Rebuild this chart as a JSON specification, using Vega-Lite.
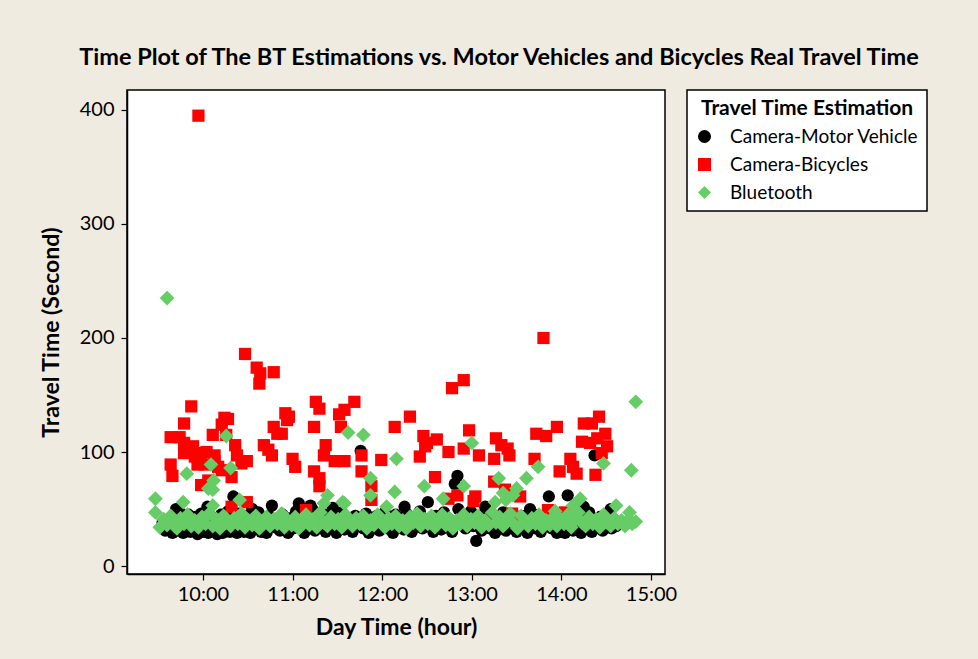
{
  "$schema": "https://vega.github.io/schema/vega-lite/v6.json",
  "width": 538,
  "height": 484,
  "autosize": {"type": "none"},
  "padding": {"left": 127, "top": 90, "right": 313, "bottom": 85},
  "background": "#EFEBE1",
  "title": {"text": "Time Plot of The BT Estimations vs. Motor Vehicles and Bicycles Real Travel Time", "font": "Lato", "fontSize": 23.5, "fontWeight": "bold", "color": "#000000", "anchor": "middle", "frame": "group", "dx": 103, "offset": 20},
  "config": {
    "view": {"stroke": "#000000", "strokeWidth": 1.5, "fill": "#FFFFFF"},
    "axis": {"grid": false, "domainColor": "#000000", "domainWidth": 1.5, "tickColor": "#000000", "tickWidth": 1.2, "tickSize": 6, "labelFont": "Lato", "labelFontSize": 20, "labelColor": "#000000", "titleFont": "Lato", "titleFontSize": 23, "titleFontWeight": "bold", "titleColor": "#000000"},
    "legend": {"orient": "right", "offset": 22, "strokeColor": "#000000", "strokeWidth": 1.5, "fillColor": "#FFFFFF", "padding": 8, "titleFont": "Lato", "titleFontSize": 21, "titleFontWeight": "bold", "titleColor": "#000000", "titleAnchor": "middle", "titlePadding": 8, "labelFont": "Lato", "labelFontSize": 19, "labelColor": "#000000", "labelOffset": 16, "rowPadding": 8, "symbolSize": 170, "symbolStrokeWidth": 0, "labelLimit": 400, "titleLimit": 400}
  },
  "data": {"values": [
    {"h":9.55,"v":38,"s":"Camera-Motor Vehicle"},{"h":9.58,"v":31,"s":"Camera-Motor Vehicle"},{"h":9.62,"v":33,"s":"Camera-Motor Vehicle"},{"h":9.64,"v":40,"s":"Camera-Motor Vehicle"},{"h":9.66,"v":29,"s":"Camera-Motor Vehicle"},{"h":9.68,"v":44,"s":"Camera-Motor Vehicle"},{"h":9.70,"v":50,"s":"Camera-Motor Vehicle"},{"h":9.72,"v":31,"s":"Camera-Motor Vehicle"},{"h":9.74,"v":47,"s":"Camera-Motor Vehicle"},{"h":9.76,"v":38,"s":"Camera-Motor Vehicle"},{"h":9.78,"v":29,"s":"Camera-Motor Vehicle"},{"h":9.80,"v":42,"s":"Camera-Motor Vehicle"},{"h":9.82,"v":35,"s":"Camera-Motor Vehicle"},{"h":9.84,"v":45,"s":"Camera-Motor Vehicle"},{"h":9.86,"v":30,"s":"Camera-Motor Vehicle"},{"h":9.88,"v":39,"s":"Camera-Motor Vehicle"},{"h":9.90,"v":33,"s":"Camera-Motor Vehicle"},{"h":9.92,"v":43,"s":"Camera-Motor Vehicle"},{"h":9.94,"v":28,"s":"Camera-Motor Vehicle"},{"h":9.96,"v":36,"s":"Camera-Motor Vehicle"},{"h":9.98,"v":46,"s":"Camera-Motor Vehicle"},{"h":10.00,"v":30,"s":"Camera-Motor Vehicle"},{"h":10.02,"v":40,"s":"Camera-Motor Vehicle"},{"h":10.04,"v":34,"s":"Camera-Motor Vehicle"},{"h":10.05,"v":52,"s":"Camera-Motor Vehicle"},{"h":10.06,"v":29,"s":"Camera-Motor Vehicle"},{"h":10.08,"v":44,"s":"Camera-Motor Vehicle"},{"h":10.10,"v":37,"s":"Camera-Motor Vehicle"},{"h":10.12,"v":31,"s":"Camera-Motor Vehicle"},{"h":10.14,"v":41,"s":"Camera-Motor Vehicle"},{"h":10.16,"v":28,"s":"Camera-Motor Vehicle"},{"h":10.18,"v":35,"s":"Camera-Motor Vehicle"},{"h":10.20,"v":45,"s":"Camera-Motor Vehicle"},{"h":10.22,"v":29,"s":"Camera-Motor Vehicle"},{"h":10.24,"v":38,"s":"Camera-Motor Vehicle"},{"h":10.26,"v":33,"s":"Camera-Motor Vehicle"},{"h":10.28,"v":48,"s":"Camera-Motor Vehicle"},{"h":10.30,"v":30,"s":"Camera-Motor Vehicle"},{"h":10.32,"v":42,"s":"Camera-Motor Vehicle"},{"h":10.34,"v":61,"s":"Camera-Motor Vehicle"},{"h":10.36,"v":36,"s":"Camera-Motor Vehicle"},{"h":10.38,"v":29,"s":"Camera-Motor Vehicle"},{"h":10.40,"v":46,"s":"Camera-Motor Vehicle"},{"h":10.42,"v":33,"s":"Camera-Motor Vehicle"},{"h":10.44,"v":39,"s":"Camera-Motor Vehicle"},{"h":10.46,"v":30,"s":"Camera-Motor Vehicle"},{"h":10.48,"v":44,"s":"Camera-Motor Vehicle"},{"h":10.50,"v":35,"s":"Camera-Motor Vehicle"},{"h":10.53,"v":29,"s":"Camera-Motor Vehicle"},{"h":10.55,"v":50,"s":"Camera-Motor Vehicle"},{"h":10.56,"v":41,"s":"Camera-Motor Vehicle"},{"h":10.59,"v":33,"s":"Camera-Motor Vehicle"},{"h":10.62,"v":47,"s":"Camera-Motor Vehicle"},{"h":10.65,"v":30,"s":"Camera-Motor Vehicle"},{"h":10.68,"v":38,"s":"Camera-Motor Vehicle"},{"h":10.71,"v":29,"s":"Camera-Motor Vehicle"},{"h":10.74,"v":44,"s":"Camera-Motor Vehicle"},{"h":10.77,"v":53,"s":"Camera-Motor Vehicle"},{"h":10.80,"v":34,"s":"Camera-Motor Vehicle"},{"h":10.83,"v":40,"s":"Camera-Motor Vehicle"},{"h":10.86,"v":31,"s":"Camera-Motor Vehicle"},{"h":10.89,"v":45,"s":"Camera-Motor Vehicle"},{"h":10.92,"v":36,"s":"Camera-Motor Vehicle"},{"h":10.95,"v":29,"s":"Camera-Motor Vehicle"},{"h":10.98,"v":42,"s":"Camera-Motor Vehicle"},{"h":11.01,"v":33,"s":"Camera-Motor Vehicle"},{"h":11.04,"v":48,"s":"Camera-Motor Vehicle"},{"h":11.07,"v":55,"s":"Camera-Motor Vehicle"},{"h":11.10,"v":37,"s":"Camera-Motor Vehicle"},{"h":11.13,"v":29,"s":"Camera-Motor Vehicle"},{"h":11.16,"v":43,"s":"Camera-Motor Vehicle"},{"h":11.19,"v":35,"s":"Camera-Motor Vehicle"},{"h":11.20,"v":53,"s":"Camera-Motor Vehicle"},{"h":11.22,"v":50,"s":"Camera-Motor Vehicle"},{"h":11.25,"v":31,"s":"Camera-Motor Vehicle"},{"h":11.28,"v":41,"s":"Camera-Motor Vehicle"},{"h":11.31,"v":36,"s":"Camera-Motor Vehicle"},{"h":11.34,"v":46,"s":"Camera-Motor Vehicle"},{"h":11.37,"v":30,"s":"Camera-Motor Vehicle"},{"h":11.40,"v":39,"s":"Camera-Motor Vehicle"},{"h":11.43,"v":34,"s":"Camera-Motor Vehicle"},{"h":11.45,"v":51,"s":"Camera-Motor Vehicle"},{"h":11.46,"v":44,"s":"Camera-Motor Vehicle"},{"h":11.49,"v":29,"s":"Camera-Motor Vehicle"},{"h":11.52,"v":38,"s":"Camera-Motor Vehicle"},{"h":11.55,"v":47,"s":"Camera-Motor Vehicle"},{"h":11.58,"v":32,"s":"Camera-Motor Vehicle"},{"h":11.61,"v":41,"s":"Camera-Motor Vehicle"},{"h":11.64,"v":35,"s":"Camera-Motor Vehicle"},{"h":11.67,"v":30,"s":"Camera-Motor Vehicle"},{"h":11.70,"v":44,"s":"Camera-Motor Vehicle"},{"h":11.73,"v":38,"s":"Camera-Motor Vehicle"},{"h":11.76,"v":101,"s":"Camera-Motor Vehicle"},{"h":11.79,"v":33,"s":"Camera-Motor Vehicle"},{"h":11.82,"v":46,"s":"Camera-Motor Vehicle"},{"h":11.85,"v":29,"s":"Camera-Motor Vehicle"},{"h":11.88,"v":40,"s":"Camera-Motor Vehicle"},{"h":11.91,"v":35,"s":"Camera-Motor Vehicle"},{"h":11.94,"v":44,"s":"Camera-Motor Vehicle"},{"h":11.97,"v":31,"s":"Camera-Motor Vehicle"},{"h":12.00,"v":38,"s":"Camera-Motor Vehicle"},{"h":12.03,"v":47,"s":"Camera-Motor Vehicle"},{"h":12.06,"v":33,"s":"Camera-Motor Vehicle"},{"h":12.09,"v":41,"s":"Camera-Motor Vehicle"},{"h":12.12,"v":29,"s":"Camera-Motor Vehicle"},{"h":12.15,"v":45,"s":"Camera-Motor Vehicle"},{"h":12.18,"v":36,"s":"Camera-Motor Vehicle"},{"h":12.21,"v":40,"s":"Camera-Motor Vehicle"},{"h":12.24,"v":32,"s":"Camera-Motor Vehicle"},{"h":12.25,"v":52,"s":"Camera-Motor Vehicle"},{"h":12.27,"v":46,"s":"Camera-Motor Vehicle"},{"h":12.30,"v":38,"s":"Camera-Motor Vehicle"},{"h":12.33,"v":30,"s":"Camera-Motor Vehicle"},{"h":12.36,"v":43,"s":"Camera-Motor Vehicle"},{"h":12.39,"v":35,"s":"Camera-Motor Vehicle"},{"h":12.42,"v":48,"s":"Camera-Motor Vehicle"},{"h":12.45,"v":33,"s":"Camera-Motor Vehicle"},{"h":12.48,"v":41,"s":"Camera-Motor Vehicle"},{"h":12.51,"v":56,"s":"Camera-Motor Vehicle"},{"h":12.54,"v":36,"s":"Camera-Motor Vehicle"},{"h":12.57,"v":30,"s":"Camera-Motor Vehicle"},{"h":12.60,"v":44,"s":"Camera-Motor Vehicle"},{"h":12.63,"v":38,"s":"Camera-Motor Vehicle"},{"h":12.66,"v":32,"s":"Camera-Motor Vehicle"},{"h":12.69,"v":47,"s":"Camera-Motor Vehicle"},{"h":12.72,"v":35,"s":"Camera-Motor Vehicle"},{"h":12.75,"v":41,"s":"Camera-Motor Vehicle"},{"h":12.78,"v":30,"s":"Camera-Motor Vehicle"},{"h":12.81,"v":72,"s":"Camera-Motor Vehicle"},{"h":12.84,"v":79,"s":"Camera-Motor Vehicle"},{"h":12.85,"v":50,"s":"Camera-Motor Vehicle"},{"h":12.87,"v":37,"s":"Camera-Motor Vehicle"},{"h":12.90,"v":44,"s":"Camera-Motor Vehicle"},{"h":12.93,"v":33,"s":"Camera-Motor Vehicle"},{"h":12.96,"v":40,"s":"Camera-Motor Vehicle"},{"h":12.99,"v":48,"s":"Camera-Motor Vehicle"},{"h":13.02,"v":35,"s":"Camera-Motor Vehicle"},{"h":13.05,"v":22,"s":"Camera-Motor Vehicle"},{"h":13.08,"v":42,"s":"Camera-Motor Vehicle"},{"h":13.11,"v":31,"s":"Camera-Motor Vehicle"},{"h":13.14,"v":46,"s":"Camera-Motor Vehicle"},{"h":13.15,"v":52,"s":"Camera-Motor Vehicle"},{"h":13.17,"v":37,"s":"Camera-Motor Vehicle"},{"h":13.20,"v":33,"s":"Camera-Motor Vehicle"},{"h":13.23,"v":44,"s":"Camera-Motor Vehicle"},{"h":13.26,"v":29,"s":"Camera-Motor Vehicle"},{"h":13.29,"v":40,"s":"Camera-Motor Vehicle"},{"h":13.32,"v":35,"s":"Camera-Motor Vehicle"},{"h":13.35,"v":47,"s":"Camera-Motor Vehicle"},{"h":13.38,"v":31,"s":"Camera-Motor Vehicle"},{"h":13.41,"v":41,"s":"Camera-Motor Vehicle"},{"h":13.44,"v":36,"s":"Camera-Motor Vehicle"},{"h":13.47,"v":45,"s":"Camera-Motor Vehicle"},{"h":13.50,"v":30,"s":"Camera-Motor Vehicle"},{"h":13.53,"v":39,"s":"Camera-Motor Vehicle"},{"h":13.56,"v":34,"s":"Camera-Motor Vehicle"},{"h":13.59,"v":44,"s":"Camera-Motor Vehicle"},{"h":13.62,"v":29,"s":"Camera-Motor Vehicle"},{"h":13.65,"v":50,"s":"Camera-Motor Vehicle"},{"h":13.66,"v":38,"s":"Camera-Motor Vehicle"},{"h":13.68,"v":46,"s":"Camera-Motor Vehicle"},{"h":13.71,"v":33,"s":"Camera-Motor Vehicle"},{"h":13.74,"v":41,"s":"Camera-Motor Vehicle"},{"h":13.77,"v":30,"s":"Camera-Motor Vehicle"},{"h":13.80,"v":36,"s":"Camera-Motor Vehicle"},{"h":13.83,"v":44,"s":"Camera-Motor Vehicle"},{"h":13.86,"v":61,"s":"Camera-Motor Vehicle"},{"h":13.89,"v":33,"s":"Camera-Motor Vehicle"},{"h":13.92,"v":40,"s":"Camera-Motor Vehicle"},{"h":13.95,"v":29,"s":"Camera-Motor Vehicle"},{"h":13.98,"v":46,"s":"Camera-Motor Vehicle"},{"h":14.01,"v":35,"s":"Camera-Motor Vehicle"},{"h":14.04,"v":29,"s":"Camera-Motor Vehicle"},{"h":14.07,"v":62,"s":"Camera-Motor Vehicle"},{"h":14.10,"v":42,"s":"Camera-Motor Vehicle"},{"h":14.13,"v":31,"s":"Camera-Motor Vehicle"},{"h":14.16,"v":38,"s":"Camera-Motor Vehicle"},{"h":14.19,"v":45,"s":"Camera-Motor Vehicle"},{"h":14.22,"v":29,"s":"Camera-Motor Vehicle"},{"h":14.25,"v":52,"s":"Camera-Motor Vehicle"},{"h":14.26,"v":40,"s":"Camera-Motor Vehicle"},{"h":14.28,"v":34,"s":"Camera-Motor Vehicle"},{"h":14.31,"v":47,"s":"Camera-Motor Vehicle"},{"h":14.34,"v":30,"s":"Camera-Motor Vehicle"},{"h":14.37,"v":97,"s":"Camera-Motor Vehicle"},{"h":14.40,"v":36,"s":"Camera-Motor Vehicle"},{"h":14.43,"v":43,"s":"Camera-Motor Vehicle"},{"h":14.46,"v":31,"s":"Camera-Motor Vehicle"},{"h":14.49,"v":39,"s":"Camera-Motor Vehicle"},{"h":14.52,"v":46,"s":"Camera-Motor Vehicle"},{"h":14.55,"v":50,"s":"Camera-Motor Vehicle"},{"h":14.56,"v":33,"s":"Camera-Motor Vehicle"},{"h":14.58,"v":41,"s":"Camera-Motor Vehicle"},{"h":14.61,"v":35,"s":"Camera-Motor Vehicle"},
    {"h":9.95,"v":395,"s":"Camera-Bicycles"},{"h":10.47,"v":186,"s":"Camera-Bicycles"},{"h":10.60,"v":174,"s":"Camera-Bicycles"},{"h":10.64,"v":169,"s":"Camera-Bicycles"},{"h":10.63,"v":160,"s":"Camera-Bicycles"},{"h":10.79,"v":170,"s":"Camera-Bicycles"},{"h":13.80,"v":200,"s":"Camera-Bicycles"},{"h":9.87,"v":140,"s":"Camera-Bicycles"},{"h":9.79,"v":125,"s":"Camera-Bicycles"},{"h":9.64,"v":113,"s":"Camera-Bicycles"},{"h":9.74,"v":113,"s":"Camera-Bicycles"},{"h":9.79,"v":108,"s":"Camera-Bicycles"},{"h":9.79,"v":99,"s":"Camera-Bicycles"},{"h":9.89,"v":105,"s":"Camera-Bicycles"},{"h":9.64,"v":89,"s":"Camera-Bicycles"},{"h":9.66,"v":79,"s":"Camera-Bicycles"},{"h":9.98,"v":99,"s":"Camera-Bicycles"},{"h":10.04,"v":100,"s":"Camera-Bicycles"},{"h":10.11,"v":115,"s":"Camera-Bicycles"},{"h":10.24,"v":130,"s":"Camera-Bicycles"},{"h":10.28,"v":129,"s":"Camera-Bicycles"},{"h":10.21,"v":124,"s":"Camera-Bicycles"},{"h":10.26,"v":115,"s":"Camera-Bicycles"},{"h":10.36,"v":106,"s":"Camera-Bicycles"},{"h":10.38,"v":97,"s":"Camera-Bicycles"},{"h":10.43,"v":90,"s":"Camera-Bicycles"},{"h":10.49,"v":92,"s":"Camera-Bicycles"},{"h":10.32,"v":78,"s":"Camera-Bicycles"},{"h":10.13,"v":97,"s":"Camera-Bicycles"},{"h":10.13,"v":92,"s":"Camera-Bicycles"},{"h":9.98,"v":71,"s":"Camera-Bicycles"},{"h":10.06,"v":75,"s":"Camera-Bicycles"},{"h":9.91,"v":96,"s":"Camera-Bicycles"},{"h":9.94,"v":89,"s":"Camera-Bicycles"},{"h":10.02,"v":89,"s":"Camera-Bicycles"},{"h":10.17,"v":87,"s":"Camera-Bicycles"},{"h":10.21,"v":84,"s":"Camera-Bicycles"},{"h":10.68,"v":106,"s":"Camera-Bicycles"},{"h":10.73,"v":102,"s":"Camera-Bicycles"},{"h":10.77,"v":97,"s":"Camera-Bicycles"},{"h":10.79,"v":122,"s":"Camera-Bicycles"},{"h":10.83,"v":116,"s":"Camera-Bicycles"},{"h":10.88,"v":116,"s":"Camera-Bicycles"},{"h":10.92,"v":134,"s":"Camera-Bicycles"},{"h":10.94,"v":128,"s":"Camera-Bicycles"},{"h":10.96,"v":131,"s":"Camera-Bicycles"},{"h":11.00,"v":94,"s":"Camera-Bicycles"},{"h":11.03,"v":87,"s":"Camera-Bicycles"},{"h":11.24,"v":122,"s":"Camera-Bicycles"},{"h":11.26,"v":144,"s":"Camera-Bicycles"},{"h":11.30,"v":138,"s":"Camera-Bicycles"},{"h":11.37,"v":106,"s":"Camera-Bicycles"},{"h":11.35,"v":97,"s":"Camera-Bicycles"},{"h":11.24,"v":83,"s":"Camera-Bicycles"},{"h":11.30,"v":77,"s":"Camera-Bicycles"},{"h":11.30,"v":70,"s":"Camera-Bicycles"},{"h":11.52,"v":133,"s":"Camera-Bicycles"},{"h":11.54,"v":122,"s":"Camera-Bicycles"},{"h":11.58,"v":137,"s":"Camera-Bicycles"},{"h":11.69,"v":144,"s":"Camera-Bicycles"},{"h":11.47,"v":92,"s":"Camera-Bicycles"},{"h":11.58,"v":92,"s":"Camera-Bicycles"},{"h":11.77,"v":97,"s":"Camera-Bicycles"},{"h":11.77,"v":83,"s":"Camera-Bicycles"},{"h":11.99,"v":93,"s":"Camera-Bicycles"},{"h":12.14,"v":122,"s":"Camera-Bicycles"},{"h":12.31,"v":131,"s":"Camera-Bicycles"},{"h":12.46,"v":114,"s":"Camera-Bicycles"},{"h":12.50,"v":108,"s":"Camera-Bicycles"},{"h":12.61,"v":111,"s":"Camera-Bicycles"},{"h":12.42,"v":96,"s":"Camera-Bicycles"},{"h":12.48,"v":105,"s":"Camera-Bicycles"},{"h":12.74,"v":100,"s":"Camera-Bicycles"},{"h":12.78,"v":156,"s":"Camera-Bicycles"},{"h":12.91,"v":163,"s":"Camera-Bicycles"},{"h":12.97,"v":119,"s":"Camera-Bicycles"},{"h":12.91,"v":103,"s":"Camera-Bicycles"},{"h":13.08,"v":97,"s":"Camera-Bicycles"},{"h":12.59,"v":78,"s":"Camera-Bicycles"},{"h":13.04,"v":61,"s":"Camera-Bicycles"},{"h":13.27,"v":112,"s":"Camera-Bicycles"},{"h":13.33,"v":106,"s":"Camera-Bicycles"},{"h":13.40,"v":103,"s":"Camera-Bicycles"},{"h":13.42,"v":97,"s":"Camera-Bicycles"},{"h":13.25,"v":94,"s":"Camera-Bicycles"},{"h":13.25,"v":74,"s":"Camera-Bicycles"},{"h":13.72,"v":116,"s":"Camera-Bicycles"},{"h":13.83,"v":114,"s":"Camera-Bicycles"},{"h":13.95,"v":122,"s":"Camera-Bicycles"},{"h":13.70,"v":94,"s":"Camera-Bicycles"},{"h":13.98,"v":83,"s":"Camera-Bicycles"},{"h":14.10,"v":94,"s":"Camera-Bicycles"},{"h":14.13,"v":87,"s":"Camera-Bicycles"},{"h":14.17,"v":81,"s":"Camera-Bicycles"},{"h":14.25,"v":125,"s":"Camera-Bicycles"},{"h":14.34,"v":125,"s":"Camera-Bicycles"},{"h":14.42,"v":131,"s":"Camera-Bicycles"},{"h":14.23,"v":109,"s":"Camera-Bicycles"},{"h":14.32,"v":108,"s":"Camera-Bicycles"},{"h":14.40,"v":112,"s":"Camera-Bicycles"},{"h":14.49,"v":116,"s":"Camera-Bicycles"},{"h":14.51,"v":105,"s":"Camera-Bicycles"},{"h":14.45,"v":99,"s":"Camera-Bicycles"},{"h":14.38,"v":80,"s":"Camera-Bicycles"},{"h":11.88,"v":70,"s":"Camera-Bicycles"},{"h":11.88,"v":58,"s":"Camera-Bicycles"},{"h":11.15,"v":49,"s":"Camera-Bicycles"},{"h":10.32,"v":52,"s":"Camera-Bicycles"},{"h":10.49,"v":56,"s":"Camera-Bicycles"},{"h":12.84,"v":62,"s":"Camera-Bicycles"},{"h":13.37,"v":67,"s":"Camera-Bicycles"},{"h":13.54,"v":61,"s":"Camera-Bicycles"},{"h":13.85,"v":49,"s":"Camera-Bicycles"},{"h":13.98,"v":45,"s":"Camera-Bicycles"},{"h":14.04,"v":47,"s":"Camera-Bicycles"},{"h":12.74,"v":59,"s":"Camera-Bicycles"},{"h":13.45,"v":46,"s":"Camera-Bicycles"},{"h":13.02,"v":57,"s":"Camera-Bicycles"},
    {"h":9.52,"v":34,"s":"Bluetooth"},{"h":9.56,"v":41,"s":"Bluetooth"},{"h":9.60,"v":36,"s":"Bluetooth"},{"h":9.64,"v":44,"s":"Bluetooth"},{"h":9.67,"v":38,"s":"Bluetooth"},{"h":9.71,"v":33,"s":"Bluetooth"},{"h":9.75,"v":42,"s":"Bluetooth"},{"h":9.79,"v":37,"s":"Bluetooth"},{"h":9.83,"v":45,"s":"Bluetooth"},{"h":9.87,"v":35,"s":"Bluetooth"},{"h":9.91,"v":40,"s":"Bluetooth"},{"h":9.95,"v":34,"s":"Bluetooth"},{"h":9.99,"v":43,"s":"Bluetooth"},{"h":10.03,"v":37,"s":"Bluetooth"},{"h":10.07,"v":46,"s":"Bluetooth"},{"h":10.11,"v":35,"s":"Bluetooth"},{"h":10.15,"v":41,"s":"Bluetooth"},{"h":10.19,"v":33,"s":"Bluetooth"},{"h":10.23,"v":44,"s":"Bluetooth"},{"h":10.27,"v":38,"s":"Bluetooth"},{"h":10.31,"v":35,"s":"Bluetooth"},{"h":10.35,"v":42,"s":"Bluetooth"},{"h":10.39,"v":37,"s":"Bluetooth"},{"h":10.43,"v":46,"s":"Bluetooth"},{"h":10.47,"v":34,"s":"Bluetooth"},{"h":10.51,"v":40,"s":"Bluetooth"},{"h":10.55,"v":36,"s":"Bluetooth"},{"h":10.59,"v":44,"s":"Bluetooth"},{"h":10.63,"v":33,"s":"Bluetooth"},{"h":10.67,"v":39,"s":"Bluetooth"},{"h":10.71,"v":43,"s":"Bluetooth"},{"h":10.75,"v":35,"s":"Bluetooth"},{"h":10.79,"v":41,"s":"Bluetooth"},{"h":10.83,"v":37,"s":"Bluetooth"},{"h":10.87,"v":45,"s":"Bluetooth"},{"h":10.91,"v":34,"s":"Bluetooth"},{"h":10.95,"v":40,"s":"Bluetooth"},{"h":10.99,"v":36,"s":"Bluetooth"},{"h":11.03,"v":43,"s":"Bluetooth"},{"h":11.07,"v":33,"s":"Bluetooth"},{"h":11.11,"v":39,"s":"Bluetooth"},{"h":11.15,"v":45,"s":"Bluetooth"},{"h":11.19,"v":36,"s":"Bluetooth"},{"h":11.23,"v":41,"s":"Bluetooth"},{"h":11.27,"v":34,"s":"Bluetooth"},{"h":11.31,"v":47,"s":"Bluetooth"},{"h":11.35,"v":38,"s":"Bluetooth"},{"h":11.39,"v":35,"s":"Bluetooth"},{"h":11.43,"v":43,"s":"Bluetooth"},{"h":11.47,"v":37,"s":"Bluetooth"},{"h":11.51,"v":41,"s":"Bluetooth"},{"h":11.55,"v":34,"s":"Bluetooth"},{"h":11.59,"v":45,"s":"Bluetooth"},{"h":11.63,"v":39,"s":"Bluetooth"},{"h":11.67,"v":35,"s":"Bluetooth"},{"h":11.71,"v":42,"s":"Bluetooth"},{"h":11.75,"v":37,"s":"Bluetooth"},{"h":11.79,"v":44,"s":"Bluetooth"},{"h":11.83,"v":33,"s":"Bluetooth"},{"h":11.87,"v":40,"s":"Bluetooth"},{"h":11.91,"v":36,"s":"Bluetooth"},{"h":11.95,"v":45,"s":"Bluetooth"},{"h":11.99,"v":38,"s":"Bluetooth"},{"h":12.03,"v":34,"s":"Bluetooth"},{"h":12.07,"v":42,"s":"Bluetooth"},{"h":12.11,"v":37,"s":"Bluetooth"},{"h":12.15,"v":44,"s":"Bluetooth"},{"h":12.19,"v":35,"s":"Bluetooth"},{"h":12.23,"v":40,"s":"Bluetooth"},{"h":12.27,"v":33,"s":"Bluetooth"},{"h":12.31,"v":43,"s":"Bluetooth"},{"h":12.35,"v":38,"s":"Bluetooth"},{"h":12.39,"v":46,"s":"Bluetooth"},{"h":12.43,"v":35,"s":"Bluetooth"},{"h":12.47,"v":41,"s":"Bluetooth"},{"h":12.51,"v":37,"s":"Bluetooth"},{"h":12.55,"v":44,"s":"Bluetooth"},{"h":12.59,"v":34,"s":"Bluetooth"},{"h":12.63,"v":39,"s":"Bluetooth"},{"h":12.67,"v":45,"s":"Bluetooth"},{"h":12.71,"v":36,"s":"Bluetooth"},{"h":12.75,"v":42,"s":"Bluetooth"},{"h":12.79,"v":33,"s":"Bluetooth"},{"h":12.83,"v":40,"s":"Bluetooth"},{"h":12.87,"v":37,"s":"Bluetooth"},{"h":12.91,"v":45,"s":"Bluetooth"},{"h":12.95,"v":35,"s":"Bluetooth"},{"h":12.99,"v":41,"s":"Bluetooth"},{"h":13.03,"v":38,"s":"Bluetooth"},{"h":13.07,"v":44,"s":"Bluetooth"},{"h":13.11,"v":34,"s":"Bluetooth"},{"h":13.15,"v":40,"s":"Bluetooth"},{"h":13.19,"v":36,"s":"Bluetooth"},{"h":13.23,"v":47,"s":"Bluetooth"},{"h":13.27,"v":38,"s":"Bluetooth"},{"h":13.31,"v":43,"s":"Bluetooth"},{"h":13.35,"v":35,"s":"Bluetooth"},{"h":13.39,"v":41,"s":"Bluetooth"},{"h":13.43,"v":46,"s":"Bluetooth"},{"h":13.47,"v":37,"s":"Bluetooth"},{"h":13.51,"v":33,"s":"Bluetooth"},{"h":13.55,"v":44,"s":"Bluetooth"},{"h":13.59,"v":39,"s":"Bluetooth"},{"h":13.63,"v":35,"s":"Bluetooth"},{"h":13.67,"v":42,"s":"Bluetooth"},{"h":13.71,"v":37,"s":"Bluetooth"},{"h":13.75,"v":45,"s":"Bluetooth"},{"h":13.79,"v":34,"s":"Bluetooth"},{"h":13.83,"v":40,"s":"Bluetooth"},{"h":13.87,"v":36,"s":"Bluetooth"},{"h":13.91,"v":43,"s":"Bluetooth"},{"h":13.95,"v":35,"s":"Bluetooth"},{"h":13.99,"v":41,"s":"Bluetooth"},{"h":14.03,"v":37,"s":"Bluetooth"},{"h":14.07,"v":45,"s":"Bluetooth"},{"h":14.11,"v":34,"s":"Bluetooth"},{"h":14.15,"v":40,"s":"Bluetooth"},{"h":14.19,"v":47,"s":"Bluetooth"},{"h":14.23,"v":38,"s":"Bluetooth"},{"h":14.27,"v":35,"s":"Bluetooth"},{"h":14.31,"v":43,"s":"Bluetooth"},{"h":14.35,"v":37,"s":"Bluetooth"},{"h":14.39,"v":41,"s":"Bluetooth"},{"h":14.43,"v":34,"s":"Bluetooth"},{"h":14.47,"v":45,"s":"Bluetooth"},{"h":14.51,"v":38,"s":"Bluetooth"},{"h":14.55,"v":35,"s":"Bluetooth"},{"h":14.59,"v":42,"s":"Bluetooth"},{"h":14.63,"v":37,"s":"Bluetooth"},{"h":14.67,"v":40,"s":"Bluetooth"},{"h":14.71,"v":35,"s":"Bluetooth"},{"h":14.75,"v":41,"s":"Bluetooth"},{"h":14.79,"v":37,"s":"Bluetooth"},{"h":14.83,"v":39,"s":"Bluetooth"},
    {"h":9.47,"v":59,"s":"Bluetooth"},{"h":9.47,"v":47,"s":"Bluetooth"},{"h":9.60,"v":235,"s":"Bluetooth"},{"h":9.82,"v":81,"s":"Bluetooth"},{"h":9.78,"v":56,"s":"Bluetooth"},{"h":10.09,"v":89,"s":"Bluetooth"},{"h":10.26,"v":114,"s":"Bluetooth"},{"h":10.31,"v":86,"s":"Bluetooth"},{"h":10.06,"v":68,"s":"Bluetooth"},{"h":10.12,"v":75,"s":"Bluetooth"},{"h":10.11,"v":67,"s":"Bluetooth"},{"h":10.11,"v":53,"s":"Bluetooth"},{"h":10.41,"v":58,"s":"Bluetooth"},{"h":10.88,"v":46,"s":"Bluetooth"},{"h":11.39,"v":62,"s":"Bluetooth"},{"h":11.35,"v":55,"s":"Bluetooth"},{"h":11.58,"v":55,"s":"Bluetooth"},{"h":11.62,"v":117,"s":"Bluetooth"},{"h":11.79,"v":115,"s":"Bluetooth"},{"h":11.87,"v":77,"s":"Bluetooth"},{"h":11.87,"v":62,"s":"Bluetooth"},{"h":12.16,"v":94,"s":"Bluetooth"},{"h":12.14,"v":65,"s":"Bluetooth"},{"h":12.47,"v":70,"s":"Bluetooth"},{"h":12.68,"v":59,"s":"Bluetooth"},{"h":12.91,"v":70,"s":"Bluetooth"},{"h":13.00,"v":108,"s":"Bluetooth"},{"h":13.30,"v":77,"s":"Bluetooth"},{"h":13.35,"v":64,"s":"Bluetooth"},{"h":13.61,"v":77,"s":"Bluetooth"},{"h":13.50,"v":68,"s":"Bluetooth"},{"h":13.74,"v":87,"s":"Bluetooth"},{"h":14.47,"v":90,"s":"Bluetooth"},{"h":14.78,"v":84,"s":"Bluetooth"},{"h":14.83,"v":144,"s":"Bluetooth"},{"h":14.61,"v":53,"s":"Bluetooth"},{"h":14.76,"v":47,"s":"Bluetooth"},{"h":14.21,"v":59,"s":"Bluetooth"},{"h":14.13,"v":53,"s":"Bluetooth"},{"h":13.93,"v":48,"s":"Bluetooth"},{"h":13.26,"v":56,"s":"Bluetooth"},{"h":13.38,"v":58,"s":"Bluetooth"},{"h":13.46,"v":62,"s":"Bluetooth"},{"h":12.05,"v":52,"s":"Bluetooth"},{"h":11.56,"v":56,"s":"Bluetooth"}
  ]},
  "mark": {"type": "point", "filled": true, "opacity": 1, "strokeWidth": 0},
  "encoding": {
    "x": {"field": "h", "type": "quantitative", "title": "Day Time (hour)", "scale": {"domain": [9.153, 15.156], "nice": false, "zero": false}, "axis": {"values": [10, 11, 12, 13, 14, 15], "labelExpr": "datum.value + ':00'", "labelPadding": 4, "titlePadding": 12}},
    "y": {"field": "v", "type": "quantitative", "title": "Travel Time (Second)", "scale": {"domain": [-7, 417.5], "nice": false, "zero": false}, "axis": {"values": [0, 100, 200, 300, 400], "labelPadding": 7, "titlePadding": 16}},
    "color": {"field": "s", "type": "nominal", "title": "Travel Time Estimation", "scale": {"domain": ["Camera-Motor Vehicle", "Camera-Bicycles", "Bluetooth"], "range": ["#000000", "#FF0000", "#66CC66"]}},
    "shape": {"field": "s", "type": "nominal", "title": "Travel Time Estimation", "scale": {"domain": ["Camera-Motor Vehicle", "Camera-Bicycles", "Bluetooth"], "range": ["circle", "square", "diamond"]}},
    "size": {"condition": {"test": "datum.s === 'Bluetooth'", "value": 220}, "value": 150}
  }
}
